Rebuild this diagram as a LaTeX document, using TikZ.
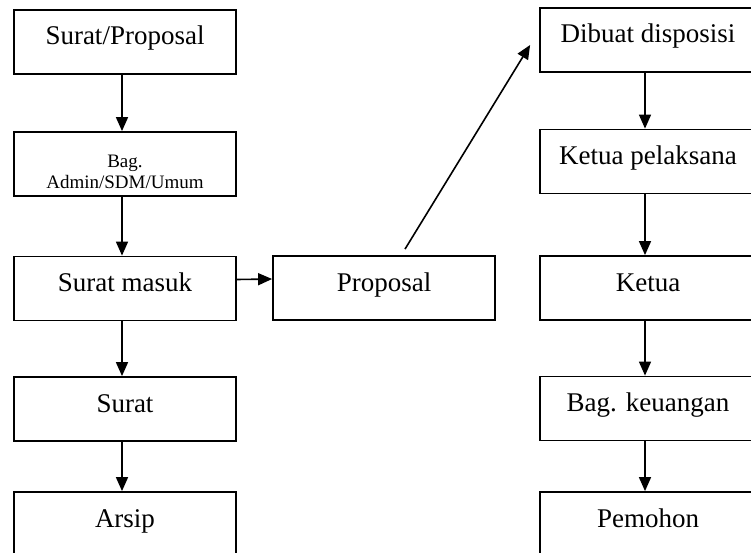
\documentclass[tikz,border=0pt]{standalone}
\usepackage{fontspec}
\setmainfont{Liberation Serif}
\usetikzlibrary{arrows.meta}
\begin{document}
\begin{tikzpicture}[x=1pt,y=-1pt,
  box/.style={draw=black, line width=1.8pt, minimum height=64pt, inner sep=0pt,
    font=\fontsize{27}{30}\selectfont, text height=18pt, text depth=12pt},
  lbox/.style={box, minimum width=222pt},
  rbox/.style={box, minimum width=216pt},
  arr/.style={line width=1.6pt, -{Triangle[length=14pt,width=12pt]}}]
\useasboundingbox (0,0) rectangle (751,553);
\clip (0,0) rectangle (751,553);
\fill[white] (0,0) rectangle (751,553);
% left column
\node[lbox] (b1) at (125,42) {Surat/Proposal};
\node[lbox, text height=, text depth=, font=\fontsize{19}{21}\selectfont] (b2) at (125,164)
  {\raisebox{-14pt}[0pt][0pt]{\begin{tabular}{@{}c@{}}Bag.\\Admin/SDM/Umum\end{tabular}}};
\node[lbox] (b3) at (125,288.5) {Surat masuk};
\node[lbox] (b4) at (125,409) {Surat};
\node[lbox] (b5) at (125,524) {Arsip};
% middle
\node[lbox] (prop) at (384,288) {Proposal};
% right column
\node[rbox] (r1) at (648,40) {Dibuat disposisi};
\node[rbox] (r2) at (648,161.5) {Ketua pelaksana};
\node[rbox] (r3) at (648,288) {Ketua};
\node[rbox] (r4) at (648,408.5) {Bag. keuangan};
\node[rbox] (r5) at (648,524) {Pemohon};
% connectors
\draw[arr] ([xshift=-3pt]b1.south) -- ([xshift=-3pt]b2.north);
\draw[arr] ([xshift=-3pt]b2.south) -- ([xshift=-3pt]b3.north);
\draw[arr] ([xshift=-3pt]b3.south) -- ([xshift=-3pt]b4.north);
\draw[arr] ([xshift=-3pt]b4.south) -- ([xshift=-3pt]b5.north);
\draw[arr] ([yshift=9pt]b3.east) -- ([yshift=9pt]prop.west);
\coordinate (dstart) at ([xshift=21pt,yshift=6pt]prop.north);
\coordinate (dend) at ([xshift=-9pt,yshift=-5pt]r1.west);
\draw[arr] (dstart) -- (dend);
\draw[arr] ([xshift=-3pt]r1.south) -- ([xshift=-3pt]r2.north);
\draw[arr] ([xshift=-3pt]r2.south) -- ([xshift=-3pt]r3.north);
\draw[arr] ([xshift=-3pt]r3.south) -- ([xshift=-3pt]r4.north);
\draw[arr] ([xshift=-3pt]r4.south) -- ([xshift=-3pt]r5.north);
\end{tikzpicture}
\end{document}
